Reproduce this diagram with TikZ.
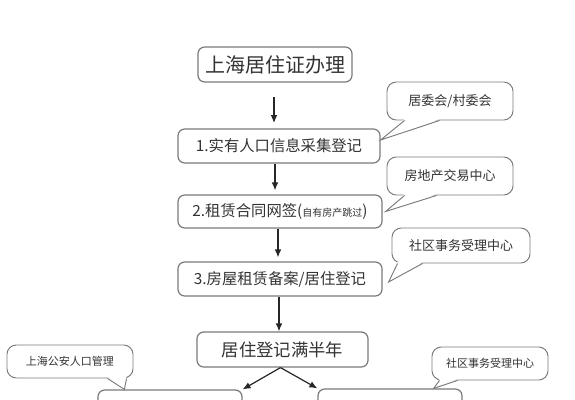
\documentclass[tikz,border=0pt]{standalone}
\usepackage{fontspec}
\setmainfont{Noto Sans CJK SC}
\usetikzlibrary{arrows.meta,calc}
\definecolor{txt}{HTML}{333333}
\definecolor{edge}{HTML}{7A7A7A}
\newcommand\mytail[3]{%
  \fill[white] ($(#1)+(0,-1.5)$) -- (#3) -- ($(#2)+(0,-1.5)$) -- cycle;
  \draw[tailline] (#1) -- (#3) -- (#2);}
\begin{document}
\begin{tikzpicture}[x=0.75pt,y=-0.75pt,
  box/.style 2 args={draw=edge, line width=0.9pt, rounded corners=5pt, fill=white, text=txt, inner sep=0pt, minimum width=#1*0.75pt, minimum height=#2*0.75pt},
  bubble/.style 2 args={draw=edge, line width=0.7pt, rounded corners=7pt, fill=white, text=txt, inner sep=0pt, minimum width=#1*0.75pt, minimum height=#2*0.75pt},
  flow/.style={draw=black!85, line width=0.9pt, -{Latex[length=6pt,width=5pt]}},
  tailline/.style={draw=edge, line width=0.7pt},
  ftitle/.style={font=\fontsize{15pt}{18pt}\selectfont},
  fstep/.style={font=\fontsize{11.5pt}{14pt}\selectfont},
  fmid/.style={font=\fontsize{13pt}{16pt}\selectfont},
  fnote/.style={font=\fontsize{9.75pt}{12pt}\selectfont},
  fsmall/.style={font=\fontsize{8.25pt}{10pt}\selectfont}]
\useasboundingbox (0,0) rectangle (575,400);
\fill[white] (0,0) rectangle (575,400);
\clip (0,0) rectangle (575,400);

% main boxes
\node[box={154}{35}, ftitle] (t) at (275,64.5) {上海居住证办理};
\node[box={202}{34}, fstep] (b1) at (279,146) {1.实有人口信息采集登记};
\node[box={204}{33}, fstep] (b2) at (280,211.5) {2.租赁合同网签({\fontsize{7.5pt}{9pt}\selectfont 自有房产跳过})};
\node[box={204}{34}, fstep] (b3) at (280,279) {3.房屋租赁备案/居住登记};
\node[box={171}{35}, fmid] (b4) at (282.5,349.5) {居住登记满半年};
\node[box={144}{40}] (bl) at (170,410) {};
\node[box={144}{40}] (br) at (390,409) {};

% arrows
\draw[flow, shorten <=11pt, shorten >=4pt] ($(t.south)+(-1,0)$) -- ($(t.south |- b1.north)+(-1,0)$);
\draw[flow, shorten >=3pt] (b1.south -| t.south) -- (b2.north -| t.south);
\draw[flow, shorten >=3pt] ($(b2.south)+(-2,0)$) -- ($(b3.north)+(-2,0)$);
\draw[flow] ($(b3.south)+(-1,0)$) -- ($(b4.north)+(-3.5,0)$);
\draw[flow] ($(b4.south)+(-2,0)$) -- (bl.north east);
\draw[flow] ($(b4.south)+(-2,0)$) -- (br.north west);

% callouts
\node[bubble={126}{38}, fnote] (c1) at (450,101) {居委会/村委会};
\coordinate (c1a) at ($(c1.south west)+(18,0)$);
\coordinate (c1b) at ($(c1.south west)+(53,0)$);
\coordinate (c1t) at ($(b1.east)+(0,-6)$);
\mytail{c1a}{c1b}{c1t}

\node[bubble={126}{38}, fnote] (c2) at (450,176) {房地产交易中心};
\coordinate (c2a) at ($(c2.south west)+(18,0)$);
\coordinate (c2b) at ($(c2.south west)+(50,0)$);
\coordinate (c2t) at ($(b2.east)+(3,0)$);
\mytail{c2a}{c2b}{c2t}

\node[bubble={138}{35}, fnote] (c3) at (461,245.5) {社区事务受理中心};
\coordinate (c3a) at ($(c3.south west)+(6,0)$);
\coordinate (c3b) at ($(c3.south west)+(31,0)$);
\coordinate (c3t) at ($(b3.east)+(6,3)$);
\mytail{c3a}{c3b}{c3t}

\node[bubble={126}{33}, fsmall] (c4) at (70,361.5) {上海公安人口管理};
\coordinate (c4a) at ($(c4.south west)+(101,0)$);
\coordinate (c4b) at ($(c4.south west)+(120,0)$);
\coordinate (c4t) at ($(bl.north west)+(27,0)$);
\mytail{c4a}{c4b}{c4t}

\node[bubble={116}{33}, fsmall] (c5) at (490,363.5) {社区事务受理中心};
\coordinate (c5a) at ($(c5.south west)+(8,0)$);
\coordinate (c5b) at ($(c5.south west)+(26,0)$);
\coordinate (c5t) at ($(br.north east)+(-29,0)$);
\mytail{c5a}{c5b}{c5t}
\end{tikzpicture}
\end{document}
